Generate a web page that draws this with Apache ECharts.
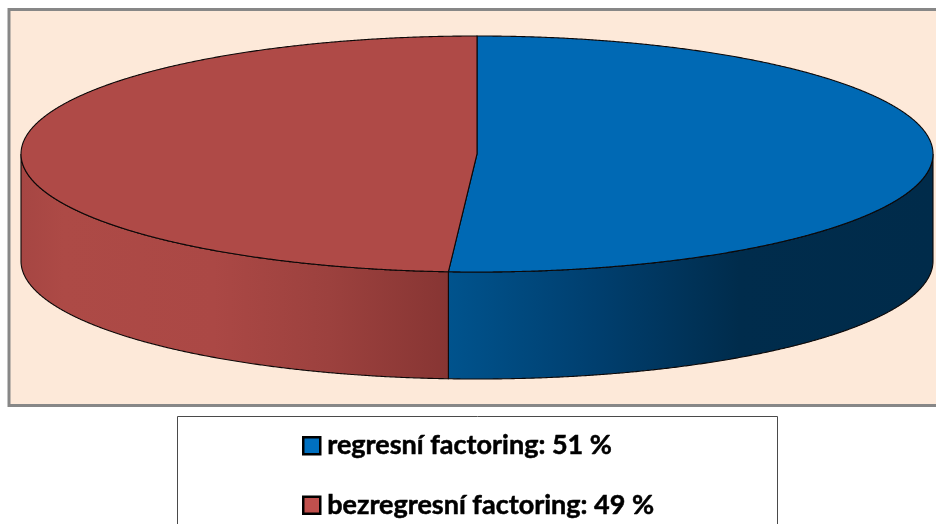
<!DOCTYPE html>
<html><head><meta charset="utf-8">
<style>html,body{margin:0;padding:0;background:#fff;overflow:hidden}#c{width:936px;height:524px}</style>
<script src="https://cdn.jsdelivr.net/npm/echarts@6/dist/echarts.min.js"></script>
</head><body><div id="c"></div>
<script>
const categories = ['regresní factoring', 'bezregresní factoring'];
const shares = [51, 49];
const topColors = ['#0069b4', '#af4a47'];
const legendColors = ['#0070c0', '#c0504d'];

const CX = 477, CY = 154, RX = 456, RY = 118, DEPTH = 107;
const total = shares.reduce((a, b) => a + b, 0);
const pt = (t, dy) => [CX + RX * Math.sin(t), CY - RY * Math.cos(t) + (dy || 0)];
function arcPoints(t1, t2, dy) {
  const n = Math.max(2, Math.ceil(Math.abs(t2 - t1) / 0.004));
  const out = [];
  for (let k = 0; k <= n; k++) out.push(pt(t1 + (t2 - t1) * k / n, dy));
  return out;
}

const sideGradients = [
  { type: 'linear', global: true, x: 449, y: 0, x2: 933, y2: 0, colorStops: [
    { offset: 0, color: '#00538d' }, { offset: 0.3, color: '#003f6f' },
    { offset: 0.6, color: '#002c4c' }, { offset: 1, color: '#002b4a' } ] },
  { type: 'linear', global: true, x: 21, y: 0, x2: 449, y2: 0, colorStops: [
    { offset: 0, color: '#a64643' }, { offset: 0.1, color: '#ad4a46' }, { offset: 0.45, color: '#ab4845' },
    { offset: 0.72, color: '#9c413e' }, { offset: 1, color: '#873533' } ] }
];

function renderSlice(i) {
  return function (params, api) {
    const start = shares.slice(0, i).reduce((a, b) => a + b, 0) / total * 2 * Math.PI;
    const end = start + api.value(0) / total * 2 * Math.PI;
    const s1 = Math.max(start, Math.PI / 2), s2 = Math.min(end, Math.PI * 1.5);
    const topPts = [[CX, CY]].concat(arcPoints(start, end));
    const sidePts = arcPoints(s1, s2).concat(arcPoints(s2, s1, DEPTH));
    const line = { stroke: '#0c0808', lineWidth: 1.1 };
    return { type: 'group', children: [
      { type: 'polygon', shape: { points: sidePts }, style: Object.assign({ fill: sideGradients[i] }, line) },
      { type: 'polygon', shape: { points: topPts }, style: Object.assign({ fill: topColors[i] }, line) }
    ] };
  };
}

const chart = echarts.init(document.getElementById('c'), null, { renderer: 'canvas' });
chart.setOption({
  animation: false,
  backgroundColor: '#ffffff',
  graphic: [
    { type: 'rect', z: -1, shape: { x: 9, y: 9.5, width: 940, height: 396 }, style: { fill: '#fde9d9', stroke: '#878787', lineWidth: 3 } },
    { type: 'rect', z: -1, shape: { x: 177.5, y: 416.5, width: 600, height: 120 }, style: { fill: '#ffffff', stroke: '#4a4a4a', lineWidth: 1 } }
  ],
  legend: {
    orient: 'vertical', left: 297, top: 427, height: 110, itemWidth: 17, itemHeight: 17, itemGap: 32,
    icon: 'rect', selectedMode: false,
    data: categories.map((n, i) => ({ name: n, itemStyle: { color: legendColors[i], borderColor: '#000', borderWidth: 2.5 } })),
    formatter: n => `${n}: ${shares[categories.indexOf(n)]} %`,
    textStyle: { fontFamily: 'Lato', fontWeight: 'bold', fontSize: 27, color: '#000', textBorderColor: '#000', textBorderWidth: 0.5, padding: [0, 0, 0, 2] }
  },
  series: categories.map((n, i) => ({
    type: 'custom', name: n, coordinateSystem: 'none', silent: true,
    renderItem: renderSlice(i), data: [[shares[i]]],
    itemStyle: { color: legendColors[i] }, clip: false
  }))
});
</script></body></html>
